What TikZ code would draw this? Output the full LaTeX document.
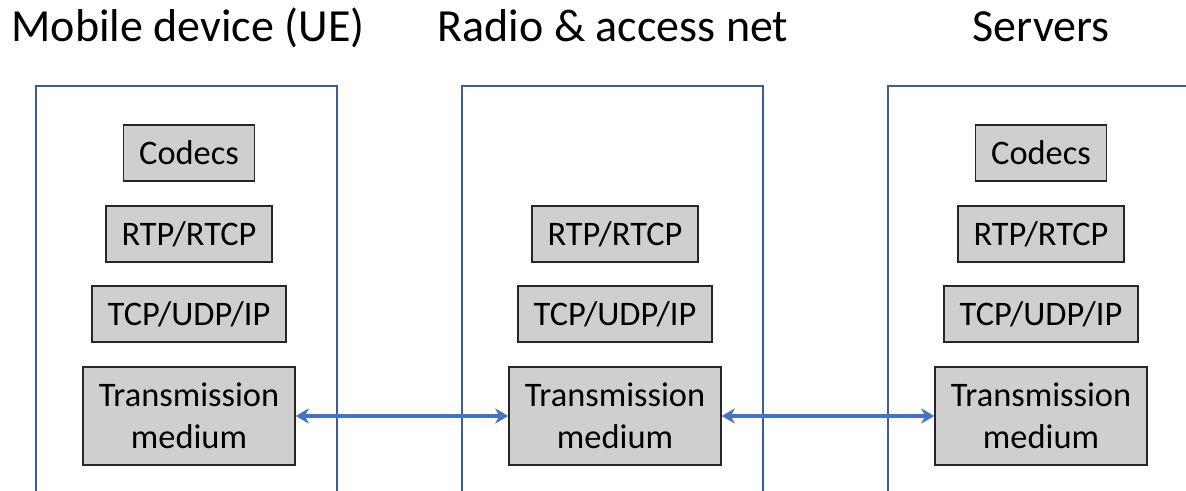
\documentclass[tikz,border=0pt]{standalone}
\usepackage{fontspec}
\setmainfont{Carlito}
\usetikzlibrary{arrows.meta}
\definecolor{panelblue}{HTML}{3B5CA0}
\definecolor{arrowblue}{HTML}{4472C4}
\definecolor{boxgray}{HTML}{D0CECE}
\definecolor{boxedge}{HTML}{262626}
\begin{document}
\begin{tikzpicture}[x=0.5pt,y=-0.5pt,
  layer/.style={draw=boxedge, line width=0.75pt, fill=boxgray, inner sep=0pt, align=center,
    font=\fontsize{17.2}{21}\selectfont},
  codecbox/.style={layer, minimum width=65.5pt, minimum height=28pt},
  rtpbox/.style={layer, minimum width=83pt, minimum height=28pt},
  tcpbox/.style={layer, minimum width=97pt, minimum height=28pt},
  medbox/.style={layer, minimum width=106pt, minimum height=49pt},
  title/.style={anchor=base, inner sep=0pt, font=\fontsize{23}{27}\selectfont},
  panel/.style={draw=panelblue, line width=1pt},
  link/.style={draw=arrowblue, line width=2pt,
    {Stealth[length=6.5pt,width=7.5pt,inset=2pt]}-{Stealth[length=6.5pt,width=7.5pt,inset=2pt]}}]
\useasboundingbox (0,0) rectangle (1186,491);

% panels
\draw[panel] (36,491) -- (36,86) -- (337,86) -- (337,491);
\draw[panel] (462,491) -- (462,86) -- (763,86) -- (763,491);
\draw[panel] (888,491) -- (888,86) -- (1190,86);

% titles
\node[title] (tA) at (188,42) {Mobile device (UE)};
\node[title] (tB) at (613,42) {Radio \& access net};
\node[title] (tC) at (1041,42) {Servers};

% left column
\node[codecbox] (codecA) at (189,153) {Codecs};
\node[rtpbox]   (rtpA)   at (189,234) {RTP/RTCP};
\node[tcpbox]   (tcpA)   at (189,314) {TCP/UDP/IP};
\node[medbox]   (medA)   at (189,416) {Transmission\\medium};

% middle column
\node[rtpbox]   (rtpB)   at (615,234) {RTP/RTCP};
\node[tcpbox]   (tcpB)   at (615,314) {TCP/UDP/IP};
\node[medbox]   (medB)   at (615,416) {Transmission\\medium};

% right column
\node[codecbox] (codecC) at (1041,153) {Codecs};
\node[rtpbox]   (rtpC)   at (1041,234) {RTP/RTCP};
\node[tcpbox]   (tcpC)   at (1041,314) {TCP/UDP/IP};
\node[medbox]   (medC)   at (1041,416) {Transmission\\medium};

% links
\draw[link] (medA.east) -- (medB.west);
\draw[link] (medB.east) -- (medC.west);
\end{tikzpicture}
\end{document}
